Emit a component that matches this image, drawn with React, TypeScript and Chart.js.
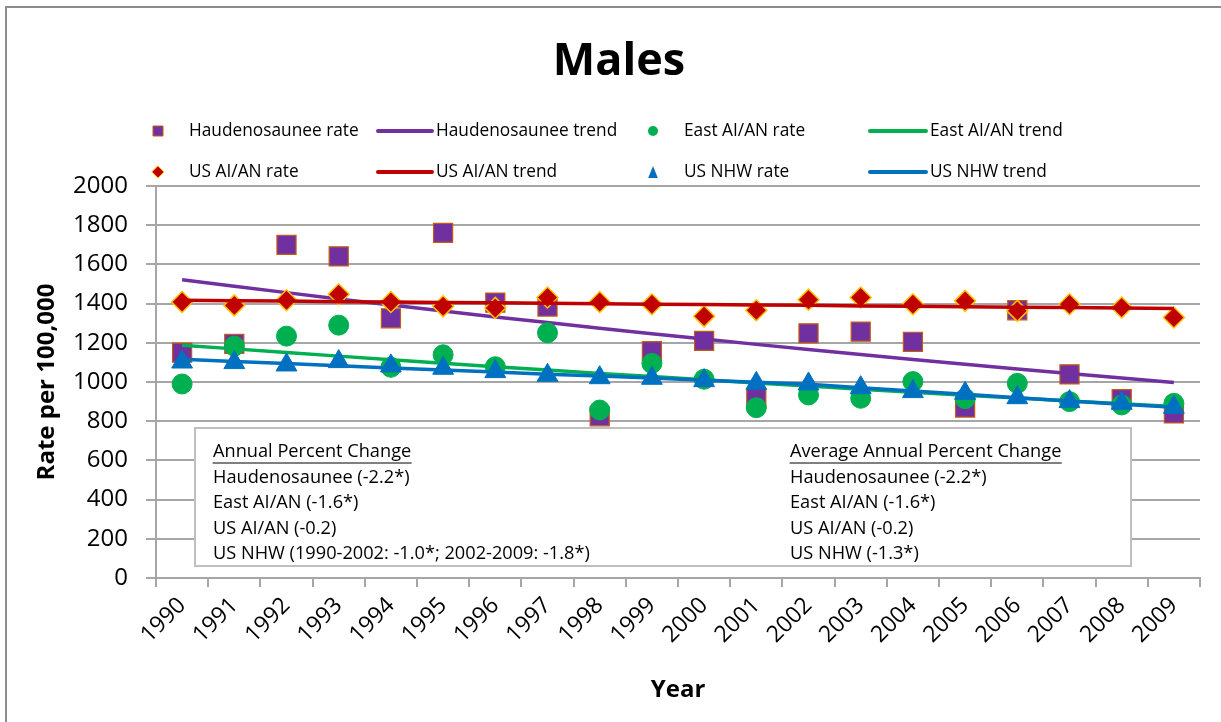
import React, { useEffect, useRef } from 'react';
import { Chart, registerables } from 'chart.js';

Chart.register(...registerables);

const FONT = "'Open Sans', 'Noto Sans', sans-serif";

const years = ['1990', '1991', '1992', '1993', '1994', '1995', '1996', '1997', '1998', '1999', '2000', '2001', '2002', '2003', '2004', '2005', '2006', '2007', '2008', '2009'];

const haudRate = [1150, 1195, 1700, 1641, 1325, 1761, 1405, 1385, 825, 1157, 1210, 917, 1248, 1257, 1205, 870, 1366, 1039, 912, 840];
const haudTrend = [1522, 1489, 1456, 1424, 1393, 1362, 1332, 1303, 1274, 1246, 1219, 1192, 1166, 1140, 1115, 1090, 1066, 1043, 1020, 997];

const eastRate = [990, 1183, 1234, 1290, 1075, 1139, 1078, 1251, 857, 1095, 1014, 869, 934, 917, 1002, 915, 993, 900, 883, 891];
const eastTrend = [1188, 1169, 1150, 1132, 1114, 1096, 1078, 1061, 1044, 1028, 1011, 995, 979, 963, 948, 933, 918, 903, 889, 875];

const usRate = [1408, 1391, 1417, 1448, 1408, 1386, 1378, 1431, 1408, 1397, 1335, 1366, 1420, 1431, 1397, 1414, 1363, 1397, 1380, 1329];
const usTrend = [1417, 1415, 1413, 1410, 1408, 1406, 1404, 1402, 1399, 1397, 1395, 1393, 1391, 1388, 1386, 1384, 1382, 1380, 1377, 1375];

const nhwRate = [1102, 1099, 1087, 1104, 1082, 1070, 1053, 1034, 1022, 1019, 1007, 993, 990, 971, 951, 942, 920, 900, 891, 871];
const nhwTrend = [1116, 1105, 1094, 1083, 1072, 1061, 1051, 1040, 1030, 1020, 1009, 999, 989, 971, 954, 937, 920, 903, 887, 871];

const apcLines = ['Haudenosaunee (-2.2*)', 'East AI/AN (-1.6*)', 'US AI/AN (-0.2)', 'US NHW (1990-2002: -1.0*; 2002-2009: -1.8*)'];
const aapcLines = ['Haudenosaunee (-2.2*)', 'East AI/AN (-1.6*)', 'US AI/AN (-0.2)', 'US NHW (-1.3*)'];

const PURPLE = '#7030a0';
const GREEN = '#00b050';
const RED = '#c00000';
const BLUE = '#0070c0';

function drawMarker(ctx: CanvasRenderingContext2D, kind: string, x: number, y: number, s: number) {
  ctx.save();
  ctx.beginPath();
  if (kind === 'square') {
    ctx.rect(x - s, y - s, 2 * s, 2 * s);
    ctx.fillStyle = PURPLE;
    ctx.fill();
    ctx.strokeStyle = '#c55a11';
    ctx.lineWidth = 1;
    ctx.stroke();
  } else if (kind === 'circle') {
    ctx.arc(x, y, s, 0, Math.PI * 2);
    ctx.fillStyle = GREEN;
    ctx.fill();
  } else if (kind === 'diamond') {
    ctx.moveTo(x, y - s);
    ctx.lineTo(x + s, y);
    ctx.lineTo(x, y + s);
    ctx.lineTo(x - s, y);
    ctx.closePath();
    ctx.fillStyle = RED;
    ctx.fill();
    ctx.strokeStyle = '#ffc000';
    ctx.lineWidth = 1;
    ctx.stroke();
  } else if (kind === 'triangle') {
    ctx.moveTo(x, y - s);
    ctx.lineTo(x + s * 0.8, y + s);
    ctx.lineTo(x - s * 0.8, y + s);
    ctx.closePath();
    ctx.fillStyle = BLUE;
    ctx.fill();
  }
  ctx.restore();
}

const overlayPlugin = {
  id: 'overlay',
  beforeDraw(chart: any) {
    const ctx: CanvasRenderingContext2D = chart.ctx;
    ctx.save();
    ctx.fillStyle = '#ffffff';
    ctx.fillRect(0, 0, chart.width, chart.height);
    ctx.strokeStyle = '#8c8c8c';
    ctx.lineWidth = 2;
    ctx.beginPath();
    ctx.moveTo(6, chart.height);
    ctx.lineTo(6, 7);
    ctx.lineTo(chart.width, 7);
    ctx.stroke();
    ctx.restore();
  },
  afterDraw(chart: any) {
    const ctx: CanvasRenderingContext2D = chart.ctx;
    ctx.save();
    // Title
    ctx.fillStyle = '#000';
    ctx.font = `bold 45px ${FONT}`;
    ctx.textAlign = 'center';
    ctx.textBaseline = 'middle';
    ctx.fillText('Males', 619, 62);

    // Legend
    const items = [
      { type: 'marker', kind: 'square', text: 'Haudenosaunee rate', mx: 158, tx: 189, y: 131 },
      { type: 'line', color: PURPLE, text: 'Haudenosaunee trend', lx: [378, 432], tx: 436, y: 131 },
      { type: 'marker', kind: 'circle', text: 'East AI/AN rate', mx: 653, tx: 684, y: 131 },
      { type: 'line', color: GREEN, text: 'East AI/AN trend', lx: [870, 926], tx: 930, y: 131 },
      { type: 'marker', kind: 'diamond', text: 'US AI/AN rate', mx: 158, tx: 189, y: 172 },
      { type: 'line', color: RED, text: 'US AI/AN trend', lx: [378, 432], tx: 436, y: 172 },
      { type: 'marker', kind: 'triangle', text: 'US NHW rate', mx: 653, tx: 684, y: 172 },
      { type: 'line', color: BLUE, text: 'US NHW trend', lx: [870, 926], tx: 930, y: 172 },
    ];
    ctx.font = `17.3px ${FONT}`;
    ctx.textAlign = 'left';
    ctx.textBaseline = 'middle';
    for (const it of items as any[]) {
      if (it.type === 'marker') {
        const s = it.kind === 'diamond' ? 6 : it.kind === 'triangle' ? 6 : 5;
        drawMarker(ctx, it.kind, it.mx, it.y, s);
      } else {
        ctx.strokeStyle = it.color;
        ctx.lineWidth = 4;
        ctx.lineCap = 'round';
        ctx.beginPath();
        ctx.moveTo(it.lx[0], it.y);
        ctx.lineTo(it.lx[1], it.y);
        ctx.stroke();
      }
      ctx.fillStyle = '#000';
      ctx.fillText(it.text, it.tx, it.y);
    }

    // Annotation box
    ctx.fillStyle = '#ffffff';
    ctx.fillRect(195, 428, 936, 138);
    ctx.strokeStyle = '#bfbfbf';
    ctx.lineWidth = 2;
    ctx.strokeRect(195, 428, 936, 138);
    ctx.fillStyle = '#000';
    ctx.font = `18.2px ${FONT}`;
    ctx.textBaseline = 'middle';
    const rowsY = [452, 477.5, 503, 528.5, 554];
    const headers = [
      { text: 'Annual Percent Change', x: 213, lines: apcLines },
      { text: 'Average Annual Percent Change', x: 790, lines: aapcLines },
    ];
    for (const h of headers) {
      ctx.fillText(h.text, h.x, rowsY[0]);
      const w = ctx.measureText(h.text).width;
      ctx.strokeStyle = '#000';
      ctx.lineWidth = 1;
      ctx.beginPath();
      ctx.moveTo(h.x, rowsY[0] + 11);
      ctx.lineTo(h.x + w, rowsY[0] + 11);
      ctx.stroke();
      h.lines.forEach((t, i) => ctx.fillText(t, h.x, rowsY[i + 1]));
    }
    ctx.restore();
  },
};

export default function App() {
  const ref = useRef<HTMLCanvasElement | null>(null);

  useEffect(() => {
    if (!ref.current) return;
    Chart.defaults.font.family = FONT;
    const gridColor = '#a6a6a6';
    const chart = new Chart(ref.current, {
      type: 'line',
      data: {
        labels: years,
        datasets: [
          { label: 'Haudenosaunee rate', data: haudRate, showLine: false, pointStyle: 'rect', pointRadius: 13.5, pointBackgroundColor: PURPLE, pointBorderColor: '#c55a11', pointBorderWidth: 1.2, order: 0 },
          { label: 'Haudenosaunee trend', data: haudTrend, borderColor: PURPLE, borderWidth: 3.5, pointRadius: 0, order: -1 },
          { label: 'East AI/AN rate', data: eastRate, showLine: false, pointStyle: 'circle', pointRadius: 10, pointBackgroundColor: GREEN, pointBorderColor: GREEN, pointBorderWidth: 1, order: -2 },
          { label: 'East AI/AN trend', data: eastTrend, borderColor: GREEN, borderWidth: 3.5, pointRadius: 0, order: -3 },
          { label: 'US AI/AN rate', data: usRate, showLine: false, pointStyle: 'rectRot', pointRadius: 10.5, pointBackgroundColor: RED, pointBorderColor: '#ffc000', pointBorderWidth: 1.5, order: -4 },
          { label: 'US AI/AN trend', data: usTrend, borderColor: RED, borderWidth: 3.5, pointRadius: 0, order: -5 },
          { label: 'US NHW rate', data: nhwRate, showLine: false, pointStyle: 'triangle', pointRadius: 12, pointBackgroundColor: BLUE, pointBorderColor: BLUE, pointBorderWidth: 1, order: -6 },
          { label: 'US NHW trend', data: nhwTrend, borderColor: BLUE, borderWidth: 3.5, pointRadius: 0, order: -7 },
        ] as any,
      },
      options: {
        responsive: false,
        animation: false,
        events: [],
        layout: { padding: { top: 186, right: 21, left: 0, bottom: 0 } },
        plugins: {
          legend: { display: false },
          title: { display: false },
          tooltip: { enabled: false },
        },
        scales: {
          x: {
            type: 'category',
            offset: true,
            grid: { display: true, drawOnChartArea: false, drawTicks: true, tickLength: 9, offset: true, color: gridColor, lineWidth: 2 },
            border: { display: true, color: gridColor, width: 2 },
            ticks: { autoSkip: false, maxRotation: 45, minRotation: 45, padding: 5, color: '#000', font: { family: FONT, size: 23 } },
            title: { display: true, text: 'Year', color: '#000', font: { family: FONT, size: 24, weight: 'bold' }, padding: { top: 0, bottom: 17.6 } },
            afterFit: (s: any) => { s.height = 144; },
          },
          y: {
            min: 0,
            max: 2000,
            grid: { color: gridColor, lineWidth: 2, tickLength: 10, drawTicks: true },
            border: { display: true, color: gridColor, width: 2 },
            ticks: { stepSize: 200, padding: 18, color: '#000', font: { family: FONT, size: 24 }, callback: (v: any) => String(v) },
            title: { display: true, text: 'Rate per 100,000', color: '#000', font: { family: FONT, size: 24, weight: 'bold' }, padding: { top: 32.6, bottom: 0 } },
            afterFit: (s: any) => { s.width = 156; },
          },
        } as any,
      },
      plugins: [overlayPlugin as any],
    });
    return () => chart.destroy();
  }, []);

  return (
    <div style={{ position: 'absolute', left: 0, top: 0, width: 1221, height: 722, overflow: 'hidden', background: '#fff' }}>
      <canvas ref={ref} width={1221} height={722} style={{ display: 'block', width: 1221, height: 722 }} />
    </div>
  );
}
